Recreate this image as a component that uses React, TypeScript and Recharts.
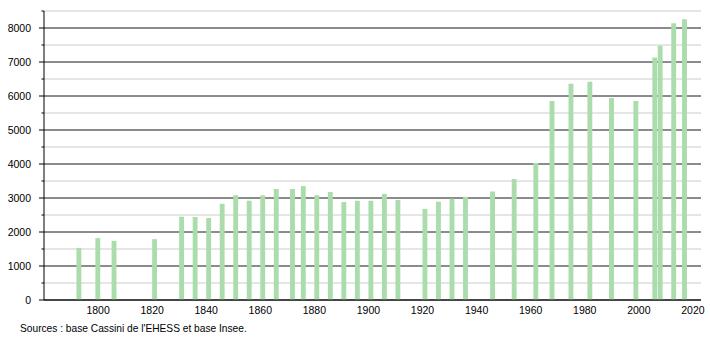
import { Bar, BarChart, CartesianGrid, XAxis, YAxis } from "recharts";

const years = [
  1793, 1800, 1806, 1821, 1831, 1836, 1841, 1846, 1851, 1856, 1861, 1866,
  1872, 1876, 1881, 1886, 1891, 1896, 1901, 1906, 1911, 1921, 1926, 1931,
  1936, 1946, 1954, 1962, 1968, 1975, 1982, 1990, 1999, 2006, 2008, 2013,
  2017,
];

const population = [
  1530, 1820, 1740, 1790, 2450, 2440, 2410, 2830, 3080, 2920, 3080, 3265,
  3265, 3350, 3080, 3175, 2880, 2920, 2920, 3120, 2940, 2680, 2890, 2980,
  3035, 3190, 3560, 4030, 5850, 6360, 6420, 5940, 5850, 7130, 7480, 8140,
  8255,
];

const xTicks = [1800, 1820, 1840, 1860, 1880, 1900, 1920, 1940, 1960, 1980, 2000, 2020];
const yMinorTicks = [
  0, 500, 1000, 1500, 2000, 2500, 3000, 3500, 4000, 4500, 5000, 5500, 6000,
  6500, 7000, 7500, 8000, 8500,
];
const yMajorTicks = [0, 1000, 2000, 3000, 4000, 5000, 6000, 7000, 8000];

const data = years.map((year, i) => ({ year, population: population[i] }));

const FONT = '"Liberation Sans", Arial, sans-serif';
const TICK_SIZE = 6;
const TICK_MARGIN = 7;

// ticks majeurs (1000) plus longs que les mineurs (500), libellé seulement sur les majeurs
function YTick(props: any) {
  const { x, y, payload } = props;
  const v = payload.value as number;
  const axisX = x + TICK_SIZE + TICK_MARGIN;
  const major = yMajorTicks.includes(v);
  return (
    <g>
      <line x1={axisX - (major ? 5 : 2.5)} x2={axisX} y1={y} y2={y} stroke="#000" />
      {major && (
        <text x={x} y={y} dy="0.355em" textAnchor="end" fontSize={10.5} fill="#000" fontFamily={FONT}>
          {v}
        </text>
      )}
    </g>
  );
}

export default function App() {
  return (
    <div style={{ position: "absolute", left: 0, top: 0, width: 710, height: 340, background: "#fff" }}>
      <BarChart
        width={710}
        height={320}
        data={data}
        margin={{ top: 11, right: 9, bottom: 0, left: 0 }}
        barSize={8}
      >
        <CartesianGrid vertical={false} stroke="#cccccc" />
        <CartesianGrid
          vertical={false}
          stroke="#333333"
          horizontalCoordinatesGenerator={({ yAxis, offset }: any) =>
            yMajorTicks.map((v) =>
              yAxis && typeof yAxis.scale === "function"
                ? yAxis.scale(v)
                : offset.top + offset.height * (1 - v / 8500)
            )
          }
        />
        <XAxis
          dataKey="year"
          type="number"
          domain={[1780, 2023]}
          ticks={xTicks}
          interval={0}
          allowDataOverflow
          tickLine={false}
          axisLine={{ stroke: "#000" }}
          tick={{ fontSize: 10.5, fill: "#000", fontFamily: FONT }}
          tickMargin={1}
          height={20}
        />
        <YAxis
          width={44}
          domain={[0, 8500]}
          ticks={yMinorTicks}
          interval={0}
          allowDataOverflow
          tickLine={false}
          tickSize={TICK_SIZE}
          tickMargin={TICK_MARGIN}
          axisLine={{ stroke: "#000" }}
          tick={<YTick />}
        />
        <Bar dataKey="population" fill="#abdcab" isAnimationActive={false} />
      </BarChart>
      <div
        style={{
          position: "absolute",
          left: 20,
          top: 323,
          fontSize: 10.2,
          fontFamily: FONT,
          color: "#000",
          whiteSpace: "nowrap",
        }}
      >
        Sources : base Cassini de l'EHESS et base Insee.
      </div>
    </div>
  );
}
